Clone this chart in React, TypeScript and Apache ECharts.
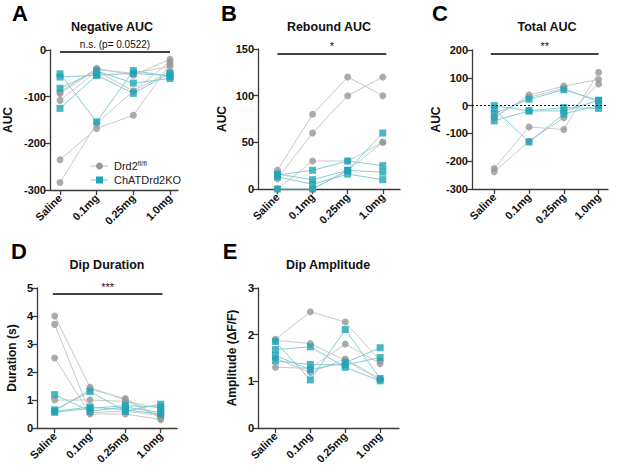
import React, { useEffect, useRef } from "react";
import * as echarts from "echarts";

const doses = ["Saline", "0.1mg", "0.25mg", "1.0mg"];

const negAucDrd2 = [
  [-284, -157, -88, -25],
  [-235, -168, -140, -30],
  [-90, -39, -54, -20],
  [-108, -45, -88, -46],
  [-93, -42, -50, -35],
];
const negAucKO = [
  [-51, -154, -44, -57],
  [-58, -54, -50, -55],
  [-82, -45, -71, -61],
  [-125, -54, -93, -50],
];
const rebAucDrd2 = [
  [20, 80, 120, 100],
  [11, 60, 100, 120],
  [0, 30, 30, 50],
  [0, 0, 20, 50],
];
const rebAucKO = [
  [15, 20, 30, 25],
  [16, 10, 20, 18],
  [13, 5, 16, 10],
  [0, 0, 20, 60],
];
const totAucDrd2 = [
  [-44, 38, 70, 94],
  [-238, -128, -44, 78],
  [-226, -77, -86, 120],
  [-40, 30, 62, 13],
];
const totAucKO = [
  [0, -19, -19, 19],
  [-12, -131, -30, 0],
  [-55, -19, -7, -10],
  [-29, 23, 57, 19],
];
const durDrd2 = [
  [4.0, 1.45, 1.0, 0.35],
  [3.7, 0.55, 0.6, 0.45],
  [2.5, 0.5, 0.5, 0.3],
  [1.0, 1.0, 0.95, 0.7],
  [0.6, 1.38, 1.05, 0.38],
];
const durKO = [
  [1.19, 0.6, 0.75, 0.55],
  [0.65, 1.3, 0.6, 0.85],
  [0.56, 0.7, 0.8, 0.75],
  [0.6, 0.75, 0.65, 0.5],
];
const ampDrd2 = [
  [1.9, 2.49, 2.27, 1.44],
  [1.5, 1.19, 1.48, 1.05],
  [1.3, 1.28, 1.8, 1.38],
  [1.88, 1.81, 1.45, 1.03],
];
const ampKO = [
  [1.85, 1.03, 2.11, 1.06],
  [1.68, 1.74, 1.3, 1.01],
  [1.44, 1.36, 1.35, 1.51],
  [1.55, 1.25, 1.4, 1.72],
];

const FONT = "'Liberation Sans', Arial, Helvetica, sans-serif";
const GREY_M = "#979797";
const GREY_L = "#c9c9c9";
const TEAL_M = "#1fa4b7";
const TEAL_L = "#86cdd6";
const AXIS = "#3a3a3a";

type Panel = {
  letter: string;
  title: string;
  yName: string;
  grid: { left: number; top: number; width: number; height: number };
  xMin: number;
  xMax: number;
  yMin: number;
  yMax: number;
  yInt: number;
  nameGap: number;
  drd2: number[][];
  ko: number[][];
  sig: string;
  sigY: number;
  sigX: [number, number];
  zeroLine?: boolean;
  titleX: number;
  titleY: number;
  letterX: number;
  letterY: number;
};

const panels: Panel[] = [
  {
    letter: "A", title: "Negative AUC", yName: "AUC",
    grid: { left: 50, top: 50, width: 128, height: 140 },
    xMin: -0.273, xMax: 3.218, yMin: -300, yMax: 0, yInt: 100, nameGap: 36,
    drd2: negAucDrd2, ko: negAucKO, sig: "n.s. (p= 0.0522)", sigY: -3, sigX: [0, 3],
    titleX: 112, titleY: 27, letterX: 20, letterY: 13,
  },
  {
    letter: "B", title: "Rebound AUC", yName: "AUC",
    grid: { left: 258, top: 49, width: 142, height: 140 },
    xMin: -0.554, xMax: 3.49, yMin: 0, yMax: 150, yInt: 50, nameGap: 30,
    drd2: rebAucDrd2, ko: rebAucKO, sig: "*", sigY: 145, sigX: [0, 3.1],
    titleX: 329, titleY: 27, letterX: 229, letterY: 13,
  },
  {
    letter: "C", title: "Total AUC", yName: "AUC",
    grid: { left: 472, top: 50, width: 136, height: 139 },
    xMin: -0.64, xMax: 3.27, yMin: -300, yMax: 200, yInt: 100, nameGap: 30,
    drd2: totAucDrd2, ko: totAucKO, sig: "**", sigY: 186, sigX: [-0.1, 3],
    zeroLine: true,
    titleX: 547, titleY: 27, letterX: 440, letterY: 13,
  },
  {
    letter: "D", title: "Dip Duration", yName: "Duration (s)",
    grid: { left: 37, top: 288, width: 140, height: 140 },
    xMin: -0.5, xMax: 3.46, yMin: 0, yMax: 5, yInt: 1, nameGap: 19,
    drd2: durDrd2, ko: durKO, sig: "***", sigY: 4.78, sigX: [-0.05, 3.05],
    titleX: 107, titleY: 265, letterX: 19, letterY: 251,
  },
  {
    letter: "E", title: "Dip Amplitude", yName: "Amplitude (\u0394F/F)",
    grid: { left: 258, top: 288, width: 141, height: 140 },
    xMin: -0.5, xMax: 3.54, yMin: 0, yMax: 3, yInt: 1, nameGap: 20,
    drd2: ampDrd2, ko: ampKO, sig: "", sigY: 0, sigX: [0, 3],
    titleX: 328, titleY: 265, letterX: 230, letterY: 251,
  },
];

export default function App() {
  const ref = useRef<HTMLDivElement>(null);
  useEffect(() => {
    if (!ref.current) return;
    const chart = echarts.init(ref.current, undefined, { renderer: "svg" });

    const grids: any[] = [];
    const xAxes: any[] = [];
    const yAxes: any[] = [];
    const series: any[] = [];
    const titles: any[] = [];
    const graphics: any[] = [];

    panels.forEach((p, i) => {
      grids.push({ ...p.grid, containLabel: false });
      xAxes.push({
        type: "value",
        gridIndex: i,
        min: p.xMin,
        max: p.xMax,
        splitLine: { show: false },
        axisLine: { show: true, onZero: false, lineStyle: { color: AXIS, width: 1.3 } },
        axisTick: { show: true, customValues: [0, 1, 2, 3], length: 5, lineStyle: { color: AXIS, width: 1.3 } },
        axisLabel: {
          customValues: [0, 1, 2, 3],
          formatter: (v: number) => doses[Math.round(v)] ?? "",
          rotate: 45,
          margin: 6,
          fontFamily: FONT,
          fontWeight: "bold",
          fontSize: 11,
          color: "#111",
        },
      });
      yAxes.push({
        type: "value",
        gridIndex: i,
        min: p.yMin,
        max: p.yMax,
        interval: p.yInt,
        splitLine: { show: false },
        name: p.yName,
        nameLocation: "middle",
        nameGap: p.nameGap,
        nameTextStyle: { fontFamily: FONT, fontWeight: "bold", fontSize: 12, color: "#111" },
        axisLine: { show: true, onZero: false, lineStyle: { color: AXIS, width: 1.3 } },
        axisTick: { show: true, length: 5, lineStyle: { color: AXIS, width: 1.3 } },
        axisLabel: { margin: 4, fontFamily: FONT, fontWeight: "bold", fontSize: 11, color: "#111" },
      });

      const addLines = (rows: number[][], color: string) => {
        rows.forEach((r) => {
          series.push({
            type: "line",
            xAxisIndex: i,
            yAxisIndex: i,
            data: r.map((v, j) => [j, v]),
            symbol: "none",
            silent: true,
            lineStyle: { color, width: 1 },
            z: 2,
          });
        });
      };
      addLines(p.drd2, GREY_L);
      addLines(p.ko, TEAL_L);

      const markLines: any[] = [];
      if (p.sig) {
        markLines.push([
          { coord: [p.sigX[0], p.sigY], lineStyle: { color: "#000", width: 1.6, type: "solid" },
            label: { show: true, position: "insideMiddleTop", formatter: p.sig, distance: 2,
              fontFamily: FONT, fontSize: p.sig.length > 3 ? 10 : 11, color: "#111" } },
          { coord: [p.sigX[1], p.sigY] },
        ]);
      }

      series.push({
        type: "scatter",
        name: "Drd2",
        xAxisIndex: i,
        yAxisIndex: i,
        data: p.drd2.flatMap((r) => r.map((v, j) => [j, v])),
        symbol: "circle",
        symbolSize: 7,
        itemStyle: { color: GREY_M },
        z: 3,
        markLine: markLines.length
          ? { silent: true, symbol: "none", animation: false, data: markLines }
          : undefined,
      });
      series.push({
        type: "scatter",
        name: "ChATDrd2KO",
        xAxisIndex: i,
        yAxisIndex: i,
        data: p.ko.flatMap((r) => r.map((v, j) => [j, v])),
        symbol: "rect",
        symbolSize: 7,
        itemStyle: { color: TEAL_M },
        z: 4,
        markLine: p.zeroLine
          ? {
              silent: true,
              symbol: "none",
              label: { show: false },
              lineStyle: { color: "#111", width: 1.2, type: [2, 2] },
              data: [{ yAxis: 0 }],
            }
          : undefined,
      });

      titles.push({
        text: p.title,
        left: p.titleX,
        top: p.titleY,
        textAlign: "center",
        textVerticalAlign: "middle",
        textStyle: { fontFamily: FONT, fontWeight: "bold", fontSize: 12.5, color: "#111" },
        padding: 0,
      });
      graphics.push({
        type: "text",
        x: p.letterX,
        y: p.letterY,
        style: {
          text: p.letter,
          fontFamily: FONT,
          fontWeight: "bold",
          fontSize: 22,
          fill: "#000",
          align: "center",
          verticalAlign: "middle",
        },
      });
    });

    // legend for panel A
    const legendRows = [
      { y: 166, color: GREY_M, line: GREY_L, shape: "circle", text: "Drd2{sup|fl/fl}" },
      { y: 180, color: TEAL_M, line: TEAL_L, shape: "rect", text: "ChATDrd2KO" },
    ];
    legendRows.forEach((r) => {
      graphics.push({ type: "line", shape: { x1: 91, y1: r.y, x2: 108, y2: r.y }, style: { stroke: r.line, lineWidth: 1.2 } });
      if (r.shape === "circle") {
        graphics.push({ type: "circle", shape: { cx: 99.5, cy: r.y, r: 3.5 }, style: { fill: r.color } });
      } else {
        graphics.push({ type: "rect", shape: { x: 96, y: r.y - 3.5, width: 7, height: 7 }, style: { fill: r.color } });
      }
      graphics.push({
        type: "text",
        x: 114,
        y: r.y,
        style: {
          text: r.text,
          fontFamily: FONT,
          fontSize: 11,
          fill: "#222",
          verticalAlign: "middle",
          rich: { sup: { fontSize: 7, verticalAlign: "top", padding: [0, 0, 6, 0], fill: "#222", fontFamily: FONT } },
        },
      });
    });

    chart.setOption({
      animation: false,
      backgroundColor: "#fff",
      title: titles,
      grid: grids,
      xAxis: xAxes,
      yAxis: yAxes,
      series,
      graphic: graphics,
    });
    return () => chart.dispose();
  }, []);
  return (
    <div
      ref={ref}
      style={{ position: "fixed", left: 0, top: 0, width: 617, height: 468 }}
    />
  );
}
